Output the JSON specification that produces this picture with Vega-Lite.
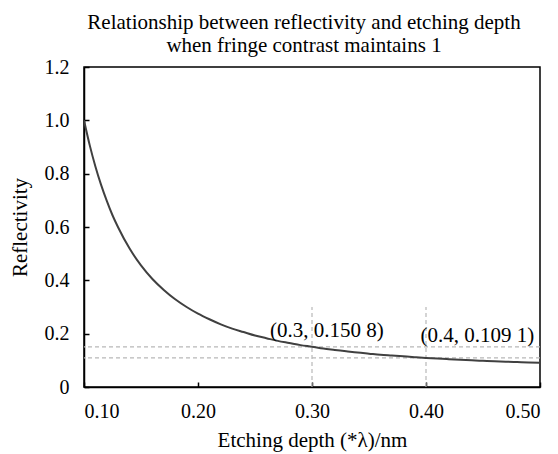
{
  "$schema": "https://vega.github.io/schema/vega-lite/v6.json",
  "width": 456,
  "height": 320,
  "autosize": {"type": "none"},
  "padding": {"left": 84, "top": 67, "right": 18, "bottom": 67},
  "background": "white",
  "config": {
    "font": "Liberation Serif",
    "view": {"stroke": "black", "strokeWidth": 1.5},
    "axis": {
      "domain": true,
      "domainColor": "black",
      "domainWidth": 1.5,
      "grid": false,
      "tickColor": "black",
      "tickSize": -5,
      "tickWidth": 1.5,
      "labelFont": "Liberation Serif",
      "labelFontSize": 20,
      "labelColor": "black",
      "titleFont": "Liberation Serif",
      "titleFontSize": 21,
      "titleFontWeight": "normal",
      "titleColor": "black"
    }
  },
  "title": {
    "text": ["Relationship between reflectivity and etching depth", "when fringe contrast maintains 1"],
    "font": "Liberation Serif",
    "fontSize": 21,
    "fontWeight": "normal",
    "color": "black",
    "lineHeight": 23,
    "offset": 1,
    "dx": -8,
    "anchor": "middle"
  },
  "datasets": {
    "curve": [
      {"x": 0.100, "r": 1.000},
      {"x": 0.105, "r": 0.907},
      {"x": 0.110, "r": 0.827},
      {"x": 0.115, "r": 0.758},
      {"x": 0.120, "r": 0.698},
      {"x": 0.125, "r": 0.644},
      {"x": 0.130, "r": 0.598},
      {"x": 0.140, "r": 0.519},
      {"x": 0.150, "r": 0.456},
      {"x": 0.160, "r": 0.405},
      {"x": 0.170, "r": 0.364},
      {"x": 0.180, "r": 0.329},
      {"x": 0.190, "r": 0.300},
      {"x": 0.200, "r": 0.275},
      {"x": 0.210, "r": 0.254},
      {"x": 0.220, "r": 0.235},
      {"x": 0.230, "r": 0.219},
      {"x": 0.240, "r": 0.206},
      {"x": 0.250, "r": 0.193},
      {"x": 0.260, "r": 0.183},
      {"x": 0.270, "r": 0.173},
      {"x": 0.280, "r": 0.165},
      {"x": 0.290, "r": 0.157},
      {"x": 0.300, "r": 0.1508},
      {"x": 0.310, "r": 0.144},
      {"x": 0.320, "r": 0.139},
      {"x": 0.330, "r": 0.134},
      {"x": 0.340, "r": 0.129},
      {"x": 0.350, "r": 0.125},
      {"x": 0.360, "r": 0.121},
      {"x": 0.370, "r": 0.118},
      {"x": 0.380, "r": 0.115},
      {"x": 0.390, "r": 0.112},
      {"x": 0.400, "r": 0.1091},
      {"x": 0.410, "r": 0.1065},
      {"x": 0.420, "r": 0.1042},
      {"x": 0.430, "r": 0.1020},
      {"x": 0.440, "r": 0.1000},
      {"x": 0.450, "r": 0.0982},
      {"x": 0.460, "r": 0.0964},
      {"x": 0.470, "r": 0.0948},
      {"x": 0.480, "r": 0.0933},
      {"x": 0.490, "r": 0.0918},
      {"x": 0.500, "r": 0.0905}
    ],
    "vref": [
      {"x": 0.3, "y0": 0, "y1": 0.3},
      {"x": 0.4, "y0": 0, "y1": 0.3}
    ],
    "href": [
      {"y": 0.1508},
      {"y": 0.1091}
    ],
    "labels": [
      {"x": 0.313, "y": 0.21, "text": "(0.3, 0.150 8)"},
      {"x": 0.445, "y": 0.19, "text": "(0.4, 0.109 1)"}
    ]
  },
  "layer": [
    {
      "data": {"name": "href"},
      "mark": {"type": "rule", "color": "#b8b8b8", "strokeDash": [4, 3], "strokeWidth": 1.2},
      "encoding": {
        "y": {"field": "y", "type": "quantitative", "scale": {"domain": [0, 1.2]}}
      }
    },
    {
      "data": {"name": "vref"},
      "mark": {"type": "rule", "color": "#b8b8b8", "strokeDash": [4, 3], "strokeWidth": 1.2},
      "encoding": {
        "x": {"field": "x", "type": "quantitative", "scale": {"domain": [0.1, 0.5]}},
        "y": {"field": "y0", "type": "quantitative", "scale": {"domain": [0, 1.2]}},
        "y2": {"field": "y1"}
      }
    },
    {
      "data": {"name": "curve"},
      "mark": {"type": "line", "color": "#404040", "strokeWidth": 2, "interpolate": "monotone", "clip": true},
      "encoding": {
        "x": {
          "field": "x", "type": "quantitative",
          "scale": {"domain": [0.1, 0.5], "nice": false, "zero": false},
          "axis": {"values": [0.1, 0.2, 0.3, 0.4, 0.5], "format": ".2f", "title": "Etching depth (*λ)/nm", "labelPadding": 19, "titlePadding": 8}
        },
        "y": {
          "field": "r", "type": "quantitative",
          "scale": {"domain": [0, 1.2], "nice": false},
          "axis": {"values": [0, 0.2, 0.4, 0.6, 0.8, 1.0, 1.2], "labelExpr": "datum.value == 0 ? '0' : format(datum.value, '.1f')", "title": "Reflectivity", "labelPadding": 20, "titlePadding": 14}
        }
      }
    },
    {
      "data": {"name": "labels"},
      "mark": {"type": "text", "font": "Liberation Serif", "fontSize": 21, "color": "black", "align": "center", "baseline": "middle"},
      "encoding": {
        "x": {"field": "x", "type": "quantitative"},
        "y": {"field": "y", "type": "quantitative"},
        "text": {"field": "text"}
      }
    }
  ]
}
